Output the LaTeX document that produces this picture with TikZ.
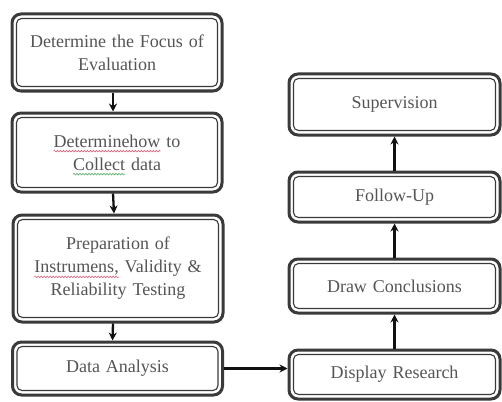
\documentclass[tikz,border=0pt]{standalone}
\usepackage{fontspec}
\setmainfont{Liberation Serif}
\usetikzlibrary{arrows.meta,decorations.pathmorphing}
\definecolor{bordc}{HTML}{3A3A3A}
\definecolor{txtc}{HTML}{555555}
\definecolor{arrc}{HTML}{111111}
\definecolor{wavered}{HTML}{E0607A}
\definecolor{wavegreen}{HTML}{5AAE6A}
\newdimen\wavlen
\newcommand\wavyline[2]{\leavevmode\setbox0\hbox{#2}\wavlen=\wd0\rlap{\tikz[baseline=0pt,x=1pt,y=1pt]\draw[overlay,draw=#1,line width=0.6pt,sharp corners,decorate,decoration={snake,amplitude=0.8pt,segment length=3pt}] (0pt,-4pt) -- (\wavlen,-4pt);}#2}
\tikzset{
  box/.style={draw=bordc, line width=3pt, rounded corners=9pt, fill=white,
    minimum width=#1, text width=200pt, align=center, inner sep=0pt,
    text=txtc, font=\fontsize{18}{23}\selectfont,
    path picture={\draw[bordc, line width=1.1pt, rounded corners=5pt]
      ([shift={(4.5pt,-4.5pt)}]path picture bounding box.north west) rectangle
      ([shift={(-4.5pt,4.5pt)}]path picture bounding box.south east);}},
  box/.default=210pt,
  arr/.style={draw=arrc, line width=2.3pt, -{Stealth[length=8pt,width=8pt]}}
}
\begin{document}
\begin{tikzpicture}[x=1pt,y=-1pt]
\useasboundingbox (0,0) rectangle (502,401);
% left column
\node[box, minimum height=77pt] (b1) at (117,52.5) {Determine the Focus of\\Evaluation};
\node[box, minimum height=79pt] (b2) at (117,152.5) {\wavyline{wavered}{Determinehow} to\\\wavyline{wavegreen}{Collect} data};
\node[box, minimum height=107pt] (b3) at (118,268.5) {Preparation of\\\wavyline{wavered}{Instrumens,} Validity \&\\Reliability Testing};
\node[box, minimum height=53pt] (b4) at (117.5,368.5) {Data Analysis};
% right column
\node[box=211pt, minimum height=61pt] (r1) at (394.5,104.5) {Supervision};
\node[box=211pt, minimum height=50pt] (r2) at (394.5,197) {Follow-Up};
\node[box=211pt, minimum height=54pt] (r3) at (394.5,286) {Draw Conclusions};
\node[box=211pt, minimum height=49pt] (r4) at (394.5,374.5) {Display Research};
% arrows
\draw[arr] ([xshift=-4pt]b1.south) -- ([xshift=-4pt]b2.north);
\draw[arr] ([xshift=-4pt]b2.south) -- ([xshift=-4pt]b3.north);
\draw[arr] ([xshift=-5pt]b3.south) -- ([xshift=-5pt]b4.north);
\draw[arr] (b4.east) -- (b4.east -| r4.west);
\draw[arr] (r4.north) -- (r3.south);
\draw[arr] (r3.north) -- (r2.south);
\draw[arr] (r2.north) -- (r1.south);
\end{tikzpicture}
\end{document}
